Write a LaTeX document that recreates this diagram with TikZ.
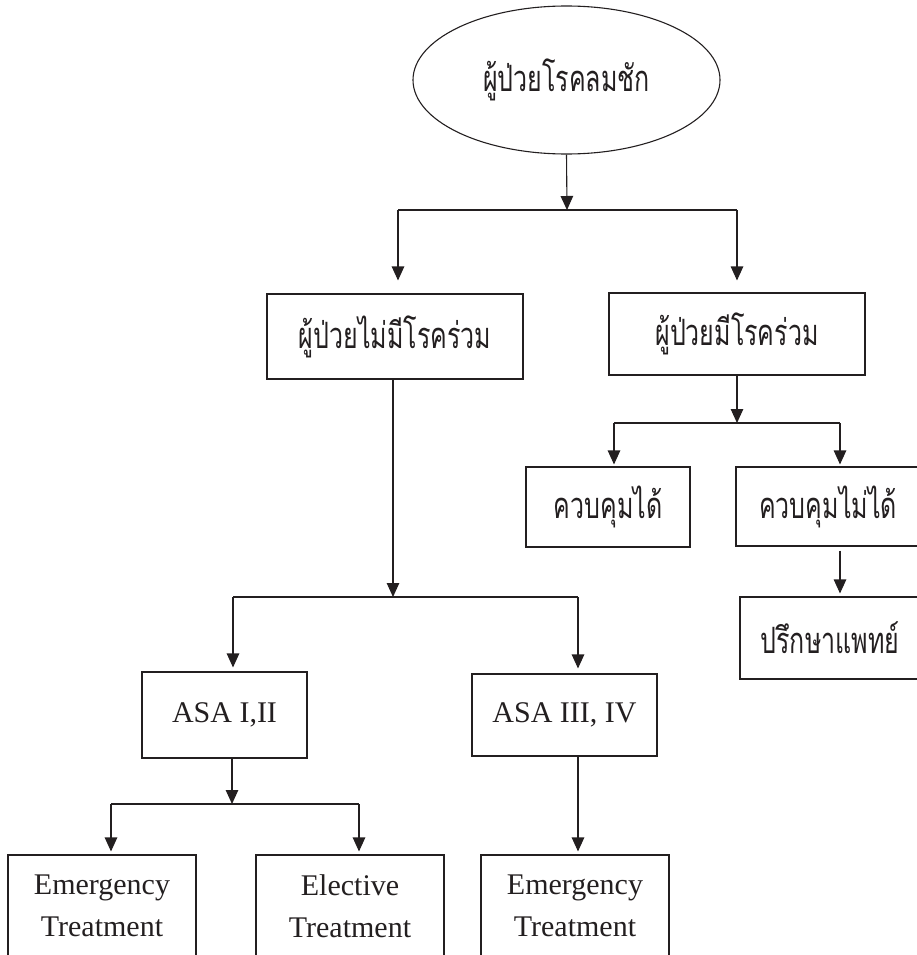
\documentclass[tikz,border=0pt]{standalone}
\usepackage{graphicx}
\usepackage{fontspec}
\setmainfont{Liberation Serif}
\newfontfamily\thaifont[Script=Thai]{Loma}
\usetikzlibrary{shapes.geometric,arrows.meta}
\definecolor{ink}{HTML}{231F20}
\newcommand\thaitxt[1]{\scalebox{1}[1.45]{#1}}
\begin{document}
\begin{tikzpicture}[x=1pt,y=-1pt,
  every node/.style={text=ink},
  box/.style={draw=ink,line width=1.1pt,rectangle,inner sep=0pt,align=center},
  thai/.style={font=\thaifont\fontsize{25}{30}\selectfont},
  latin/.style={font=\fontsize{30}{42}\selectfont},
  link/.style={draw=ink,line width=1.1pt},
  arr/.style={link,-{Triangle[length=14pt,width=12.5pt]}}]
\useasboundingbox (0,0) rectangle (917,955);
\clip (0,0) rectangle (917,955);
% nodes
\node[draw=ink,line width=1.1pt,ellipse,inner sep=0pt,minimum width=307pt,minimum height=148pt,thai] (ell) at (566.5,80) {\thaitxt{ผู้ป่วยโรคลมชัก}};
\node[box,thai,minimum width=256pt,minimum height=85pt] (noco) at (395,336.5) {\thaitxt{ผู้ป่วยไม่มีโรคร่วม}};
\node[box,thai,minimum width=256pt,minimum height=82pt] (co) at (737,334) {\thaitxt{ผู้ป่วยมีโรคร่วม}};
\node[box,thai,minimum width=164pt,minimum height=80pt] (ctl) at (608,507) {\thaitxt{ควบคุมได้}};
\node[box,thai,minimum width=184pt,minimum height=79pt] (unctl) at (828,506.5) {\thaitxt{ควบคุมไม่ได้}};
\node[box,thai,minimum width=180pt,minimum height=82pt] (consult) at (830,638) {\thaitxt{ปรึกษาแพทย์}};
\node[box,latin,minimum width=165pt,minimum height=86pt] (asa12) at (224.5,715) {ASA I,II};
\node[box,latin,minimum width=185pt,minimum height=82pt] (asa34) at (564.5,715) {ASA III, IV};
\node[box,latin,minimum width=188pt,minimum height=110pt] (em1) at (102,910) {};
\node[box,latin,minimum width=188pt,minimum height=110pt] (el) at (350,910) {};
\node[box,latin,minimum width=188pt,minimum height=110pt] (em2) at (575,910) {};
\node[latin,align=center,inner sep=0pt] (em1t) at (102,906) {Emergency\\Treatment};
\node[latin,align=center,inner sep=0pt] (elt) at (350,906) {Elective\\Treatment};
\node[latin,align=center,inner sep=0pt] (em2t) at (575,906) {Emergency\\Treatment};
% junction coordinates
\coordinate (j1) at (567,210);
\coordinate (j1l) at (398,210);
\coordinate (j1r) at (737,210);
\coordinate (j2) at (737,423);
\coordinate (j2l) at (614,423);
\coordinate (j2r) at (840,423);
\coordinate (j3) at (393,597);
\coordinate (j3l) at (233,597);
\coordinate (j3r) at (578,597);
\coordinate (j4) at (232,804);
\coordinate (j4l) at (111,804);
\coordinate (j4r) at (359,804);
% connectors
\draw[arr] (ell.south) -- (j1);
\draw[link] (j1l) -- (j1r);
\draw[arr,shorten >=13pt] (j1l) -- (j1l |- noco.north);
\draw[arr,shorten >=12pt] (j1r) -- (j1r |- co.north);
\draw[arr] (co.south) -- (j2);
\draw[link] (j2l) -- (j2r);
\draw[arr,shorten >=2pt] (j2l) -- (j2l |- ctl.north);
\draw[arr,shorten >=2pt] (j2r) -- (j2r |- unctl.north);
\draw[arr,shorten <=4pt,shorten >=3pt] (j2r |- unctl.south) -- (j2r |- consult.north);
\draw[arr] (j3 |- noco.south) -- (j3);
\draw[link] (j3l) -- (j3r);
\draw[arr,shorten >=4pt] (j3l) -- (j3l |- asa12.north);
\draw[arr,shorten >=5pt] (j3r) -- (j3r |- asa34.north);
\draw[arr] (j4 |- asa12.south) -- (j4);
\draw[link] (j4l) -- (j4r);
\draw[arr,shorten >=3pt] (j4l) -- (j4l |- em1.north);
\draw[arr,shorten >=3pt] (j4r) -- (j4r |- el.north);
\draw[arr,shorten >=3pt] (j3r |- asa34.south) -- (j3r |- em2.north);
\end{tikzpicture}
\end{document}
